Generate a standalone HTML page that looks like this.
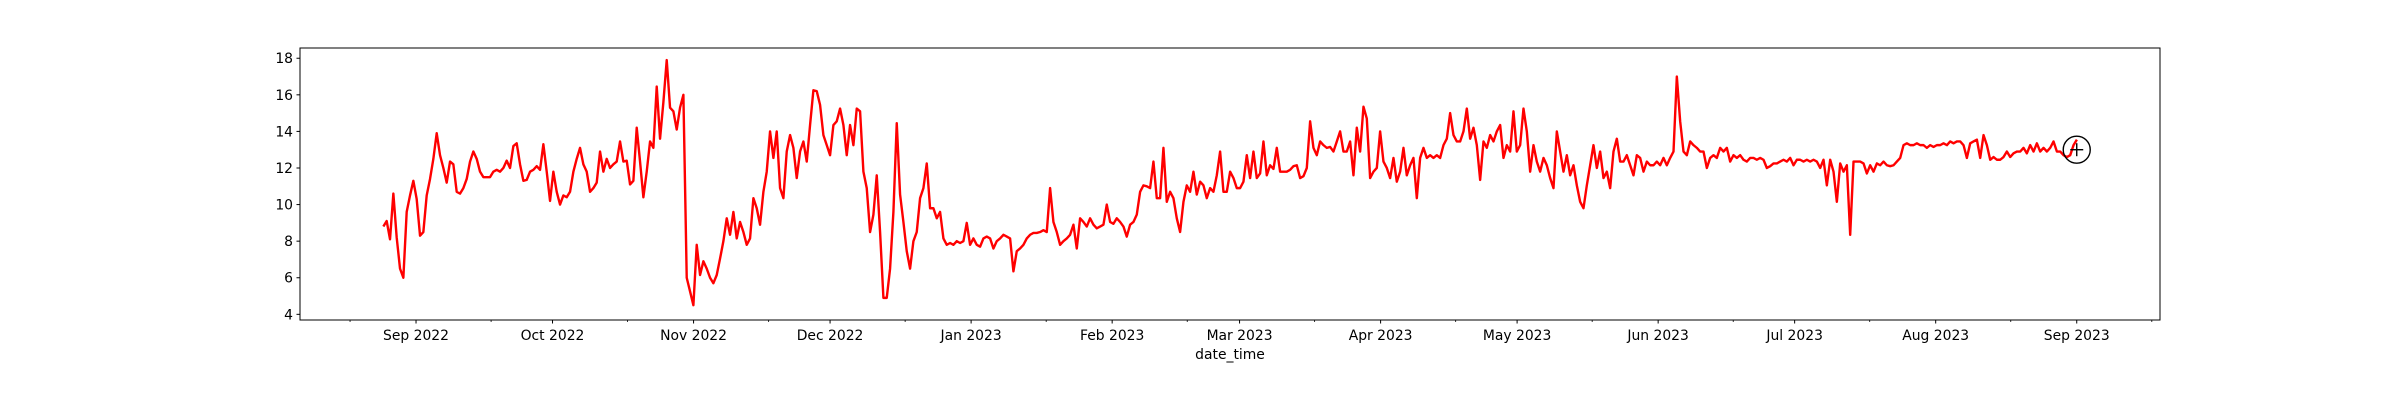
<!DOCTYPE html>
<html>
<head>
<meta charset="utf-8">
<style>
  html, body { margin: 0; padding: 0; background: #ffffff; }
  #chart { display: block; width: 2400px; height: 400px; }
  text { font-family: "DejaVu Sans", "Liberation Sans", sans-serif; fill: #000; }
</style>
</head>
<body>
<svg id="chart" width="2400" height="400" viewBox="0 0 2400 400" xmlns="http://www.w3.org/2000/svg">
  <rect x="0" y="0" width="2400" height="400" fill="#ffffff"/>
  <g id="plot"></g>
</svg>
<script>
// ---- data ----
const seriesStartDay = -7.18;      // days relative to 2022-09-01
const seriesStepDays = 0.7327;     // sampling interval in days
const values = [
8.8,9.1,8.1,10.6,8.2,6.5,6.0,9.6,10.5,11.3,10.3,8.3,8.5,10.5,11.4,12.5,13.9,12.7,12.0,11.2,12.35,12.2,10.7,10.6,10.9,11.4,12.35,12.9,12.5,11.8,11.5,11.5,11.5,11.8,11.9,11.8,12.0,12.4,12.0,13.2,13.35,12.2,11.3,11.35,11.8,11.9,12.1,11.9,13.3,11.8,10.2,11.8,10.7,10.0,10.5,10.4,10.7,11.8,12.5,13.1,12.2,11.8,10.7,10.9,11.2,12.9,11.8,12.5,12.0,12.2,12.35,13.45,12.35,12.4,11.1,11.3,14.2,12.35,10.4,11.8,13.45,13.1,16.45,13.6,15.6,17.9,15.3,15.1,14.1,15.3,
16.0,6.0,5.25,4.5,7.8,6.15,6.9,6.5,6.0,5.7,6.15,7.05,8.0,9.25,8.35,9.6,8.15,9.05,8.5,7.8,8.15,10.35,9.8,8.9,10.7,11.8,14.0,12.55,14.0,10.9,10.35,12.9,13.8,13.1,11.45,12.9,13.45,12.35,14.35,16.25,16.2,15.45,13.8,13.25,12.7,14.35,14.55,15.25,14.35,12.7,14.35,13.25,15.25,15.1,11.8,10.9,8.5,9.45,11.6,8.5,4.9,4.9,6.5,9.6,14.45,10.55,9.05,7.45,6.5,8.0,8.5,10.35,10.9,12.25,9.8,9.8,9.25,9.6,8.15,7.8,7.9,7.8,8.0,7.9,8.0,9.0,7.8,8.15,7.8,7.7,
8.15,8.25,8.15,7.6,8.0,8.15,8.35,8.25,8.15,6.35,7.45,7.6,7.8,8.15,8.35,8.45,8.45,8.5,8.6,8.5,10.9,9.05,8.5,7.8,8.0,8.15,8.35,8.9,7.6,9.25,9.05,8.8,9.25,8.9,8.7,8.8,8.9,10.0,9.05,8.95,9.25,9.05,8.8,8.25,8.9,9.05,9.45,10.7,11.05,11.0,10.9,12.35,10.35,10.35,13.1,10.15,10.7,10.35,9.25,8.5,10.15,11.05,10.7,11.8,10.55,11.25,11.05,10.35,10.9,10.7,11.6,12.9,10.7,10.7,11.8,11.45,10.9,10.9,11.25,12.7,11.45,12.9,11.45,11.7,13.45,11.6,12.15,11.95,13.1,11.8,
11.8,11.8,11.9,12.1,12.15,11.45,11.55,12.0,14.55,13.1,12.7,13.45,13.25,13.1,13.15,12.9,13.45,14.0,12.9,12.9,13.45,11.6,14.2,12.9,15.35,14.7,11.45,11.8,12.0,14.0,12.35,12.0,11.45,12.55,11.25,11.8,13.1,11.6,12.15,12.55,10.35,12.55,13.1,12.55,12.7,12.55,12.7,12.55,13.25,13.6,15.0,13.8,13.45,13.45,14.0,15.25,13.6,14.2,13.25,11.35,13.45,13.1,13.8,13.45,14.0,14.35,12.55,13.25,12.9,15.1,12.9,13.25,15.25,14.0,11.8,13.25,12.35,11.8,12.55,12.15,11.45,10.9,14.0,12.9,11.8,12.7,11.6,12.15,11.05,10.15,9.8,
11.05,12.15,13.25,12.0,12.9,11.45,11.8,10.9,12.9,13.6,12.35,12.35,12.7,12.15,11.6,12.7,12.55,11.8,12.35,12.15,12.15,12.35,12.15,12.55,12.15,12.55,12.9,17.0,14.55,12.9,12.7,13.45,13.25,13.1,12.9,12.9,12.0,12.55,12.7,12.55,13.1,12.9,13.1,12.35,12.7,12.55,12.7,12.45,12.35,12.55,12.55,12.45,12.55,12.45,12.0,12.1,12.25,12.25,12.35,12.45,12.35,12.55,12.15,12.45,12.45,12.35,12.45,12.35,12.45,12.35,12.0,12.45,11.05,12.45,11.8,10.15,12.25,11.8,12.15,8.35,12.35,12.35,12.35,12.25,11.7,12.15,11.8,12.25,12.15,12.35,
12.15,12.1,12.15,12.35,12.55,13.25,13.35,13.25,13.25,13.35,13.25,13.25,13.1,13.25,13.15,13.25,13.25,13.35,13.25,13.45,13.35,13.45,13.45,13.25,12.55,13.35,13.45,13.55,12.55,13.8,13.25,12.45,12.6,12.45,12.45,12.6,12.9,12.6,12.8,12.9,12.9,13.1,12.8,13.25,12.9,13.35,12.9,13.1,12.9,13.1,13.45,12.9,12.9,12.7,12.6,12.7,13.25,13.55
];
const yTickValues = [4, 6, 8, 10, 12, 14, 16, 18];
const monthTickDays = [-31, 0, 30, 61, 91, 122, 153, 181, 212, 242, 273, 303, 334, 365];
const monthTickLabels = ["", "Sep 2022", "Oct 2022", "Nov 2022", "Dec 2022", "Jan 2023", "Feb 2023", "Mar 2023", "Apr 2023", "May 2023", "Jun 2023", "Jul 2023", "Aug 2023", "Sep 2023"];
const markerDay = [365];
const markerValue = [13.0];

// ---- axes ----
const AX = { left: 300, right: 2160, top: 48, bottom: 320 };
const X_MIN = -25.5, X_MAX = 383.3;
const Y_MIN = 3.69, Y_MAX = 18.56;
function xScale(d) { return AX.left + (d - X_MIN) / (X_MAX - X_MIN) * (AX.right - AX.left); }
function yScale(v) { return AX.bottom - (v - Y_MIN) / (Y_MAX - Y_MIN) * (AX.bottom - AX.top); }

const NS = "http://www.w3.org/2000/svg";
const plot = document.getElementById("plot");
function mk(tag, attrs) {
  const el = document.createElementNS(NS, tag);
  for (const k in attrs) el.setAttribute(k, attrs[k]);
  return el;
}

// series line
let pts = [];
for (let i = 0; i < values.length; i++) {
  const d = seriesStartDay + i * seriesStepDays;
  pts.push(xScale(d).toFixed(2) + "," + yScale(values[i]).toFixed(2));
}
const line = mk("polyline", { points: pts.join(" "), fill: "none", stroke: "#ff0000", "stroke-width": "2.4", "stroke-linejoin": "round" });


plot.appendChild(line);

// marker circle with plus
for (let i = 0; i < markerDay.length; i++) {
  const cx = xScale(markerDay[i]), cy = yScale(markerValue[i]);
  const g = mk("g", {});
  
  
  g.appendChild(mk("circle", { cx: cx, cy: cy, r: 13.5, fill: "none", stroke: "#000", "stroke-width": "1.4" }));
  g.appendChild(mk("line", { x1: cx - 6.5, y1: cy, x2: cx + 6.5, y2: cy, stroke: "#000", "stroke-width": "1.4" }));
  g.appendChild(mk("line", { x1: cx, y1: cy - 6.5, x2: cx, y2: cy + 6.5, stroke: "#000", "stroke-width": "1.4" }));
  plot.appendChild(g);
}

// frame
const frame = mk("rect", { x: AX.left, y: AX.top, width: AX.right - AX.left, height: AX.bottom - AX.top, fill: "none", stroke: "#000", "stroke-width": "1" });


plot.appendChild(frame);

// y ticks
for (let i = 0; i < yTickValues.length; i++) {
  const y = yScale(yTickValues[i]);
  const t = mk("line", { x1: AX.left - 3.5, y1: y, x2: AX.left, y2: y, stroke: "#000", "stroke-width": "1" });
  
  
  plot.appendChild(t);
  const lb = mk("text", { x: AX.left - 7, y: y + 5, "text-anchor": "end", "font-size": "13.9px" });
  lb.textContent = String(yTickValues[i]);
  
  
  plot.appendChild(lb);
}

// x ticks (major at month start, minor mid-month)
for (let i = 0; i < monthTickDays.length; i++) {
  const x = xScale(monthTickDays[i]);
  if (x >= AX.left && x <= AX.right) {
    const t = mk("line", { x1: x, y1: AX.bottom, x2: x, y2: AX.bottom + 3.5, stroke: "#000", "stroke-width": "1" });
    
    
    plot.appendChild(t);
    if (monthTickLabels[i]) {
      const lb = mk("text", { x: x, y: AX.bottom + 20, "text-anchor": "middle", "font-size": "13.9px" });
      lb.textContent = monthTickLabels[i];
      
      
      plot.appendChild(lb);
    }
  }
  const xm = xScale(monthTickDays[i] + 16.5);
  if (xm >= AX.left && xm <= AX.right) {
    const m = mk("line", { x1: xm, y1: AX.bottom, x2: xm, y2: AX.bottom + 2, stroke: "#000", "stroke-width": "0.8" });
    
    
    plot.appendChild(m);
  }
}

// x axis title
const xt = mk("text", { x: (AX.left + AX.right) / 2, y: 359, "text-anchor": "middle", "font-size": "13.9px" });
xt.textContent = "date_time";


plot.appendChild(xt);
</script>
</body>
</html>
